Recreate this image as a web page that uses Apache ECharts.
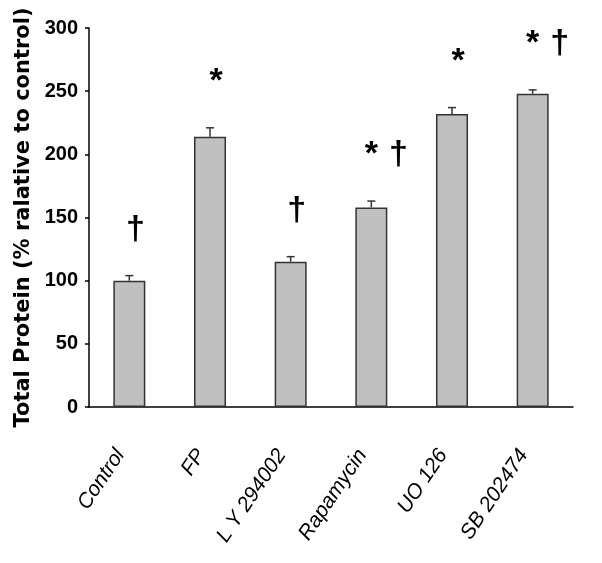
<!DOCTYPE html>
<html>
<head>
<meta charset="utf-8">
<script src="https://cdn.jsdelivr.net/npm/echarts@6/dist/echarts.min.js"></script>
<style>
html,body{margin:0;padding:0;background:#fff;}
#chart{width:602px;height:563px;}
</style>
</head>
<body>
<div id="chart"></div>
<script>
var categories = ['Control', 'FP', 'L Y 294002', 'Rapamycin', 'UO 126', 'SB 202474'];
var values = [100, 214, 115, 158, 232, 248];
var errors = [4, 7, 4, 5, 5, 3];
var marks = ['†', '*', '†', '*†', '*', '*†'];
var yTicks = [0, 50, 100, 150, 200, 250, 300];
var yTitle = 'Total Protein (% ralative to control)';

var chart = echarts.init(document.getElementById('chart'), null, {renderer: 'canvas'});

var errData = values.map(function (v, i) { return [i, v, errors[i]]; });
var markData = values.map(function (v, i) { return [i, v + errors[i], marks[i]]; });

var option = {
  animation: false,
  backgroundColor: '#fff',
  grid: {left: 89, right: 29, top: 28, bottom: 156, containLabel: false},
  xAxis: {
    type: 'category',
    data: categories,
    axisLine: {show: true, lineStyle: {color: '#000', width: 1.5}},
    axisTick: {show: false},
    axisLabel: {
      interval: 0, rotate: 56, margin: 31, padding: [0, 16, 0, 0],
      color: '#000', fontFamily: 'Liberation Sans, Arial, sans-serif',
      fontStyle: 'italic', fontSize: 21
    }
  },
  yAxis: {
    type: 'value',
    min: yTicks[0], max: yTicks[yTicks.length - 1], interval: yTicks[1] - yTicks[0],
    name: yTitle,
    nameLocation: 'middle', nameRotate: 90, nameGap: 47,
    nameTextStyle: {color: '#000', fontFamily: 'DejaVu Sans, sans-serif', fontWeight: 'bold', fontSize: 21},
    axisLine: {show: true, lineStyle: {color: '#000', width: 1.5}},
    axisTick: {show: true, length: 4, lineStyle: {color: '#000', width: 1.5}},
    splitLine: {show: false},
    axisLabel: {
      margin: 11, color: '#000',
      fontFamily: 'Liberation Sans, Arial, sans-serif', fontWeight: 'bold', fontSize: 20
    }
  },
  series: [
    {
      type: 'bar',
      data: values,
      barWidth: 32,
      itemStyle: {color: '#c0c0c0', borderColor: '#333', borderWidth: 1.5}
    },
    {
      type: 'custom',
      data: errData,
      z: 3,
      renderItem: function (params, api) {
        var top = api.coord([api.value(0), api.value(1) + api.value(2)]);
        var base = api.coord([api.value(0), api.value(1)]);
        var style = {stroke: '#333', lineWidth: 1.5};
        return {
          type: 'group',
          children: [
            {type: 'line', shape: {x1: base[0], y1: base[1], x2: top[0], y2: top[1]}, style: style},
            {type: 'line', shape: {x1: top[0] - 4, y1: top[1], x2: top[0] + 4, y2: top[1]}, style: style}
          ]
        };
      }
    },
    {
      type: 'custom',
      data: markData,
      z: 4,
      renderItem: function (params, api) {
        var p = api.coord([api.value(0), api.value(1)]);
        var m = markData[params.dataIndex][2];
        var font = 'bold 34px "Liberation Sans", Arial, sans-serif';
        var children = [];
        var y = p[1] - 29;
        if (m.indexOf('*') >= 0 && m.indexOf('†') >= 0) {
          children.push({type: 'text', style: {text: '*', x: p[0], y: y, font: font, fill: '#000', align: 'center', verticalAlign: 'bottom'}});
          children.push({type: 'text', style: {text: '†', x: p[0] + 27, y: y, font: font, fill: '#000', align: 'center', verticalAlign: 'bottom'}});
        } else {
          children.push({type: 'text', style: {text: m, x: p[0] + 6, y: y, font: font, fill: '#000', align: 'center', verticalAlign: 'bottom'}});
        }
        return {type: 'group', children: children};
      }
    }
  ]
};
chart.setOption(option);
</script>
</body>
</html>
